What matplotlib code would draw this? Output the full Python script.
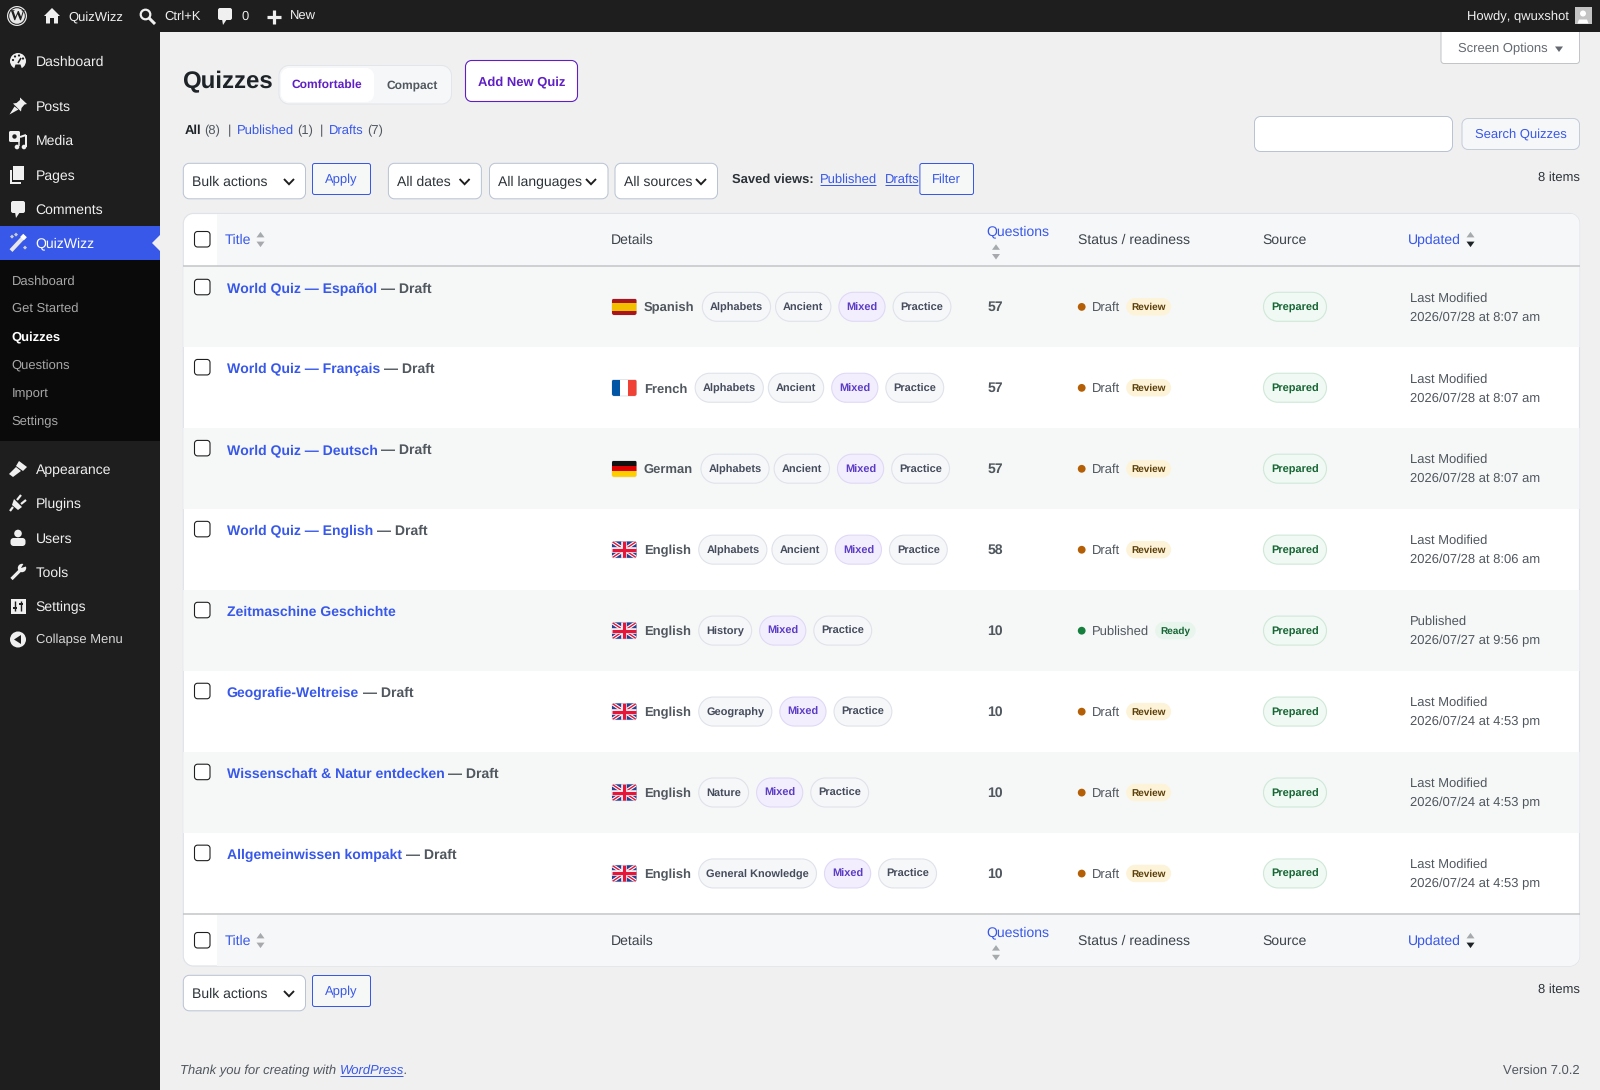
import matplotlib
matplotlib.use("Agg")
import matplotlib.pyplot as plt
from matplotlib.patches import PathPatch, Polygon, Circle, Rectangle
from matplotlib.path import Path

plt.rcParams['font.family'] = ['Liberation Sans', 'DejaVu Sans']
plt.rcParams['text.hinting'] = 'no_hinting'
plt.rcParams['text.hinting_factor'] = 1

# ---------- content ----------
menu_top = ['Dashboard']
menu_mid = ['Posts', 'Media', 'Pages', 'Comments', 'QuizWizz']
submenu = ['Dashboard', 'Get Started', 'Quizzes', 'Questions', 'Import', 'Settings']
menu_low = ['Appearance', 'Plugins', 'Users', 'Tools', 'Settings']
titles = ['World Quiz — Español', 'World Quiz — Français', 'World Quiz — Deutsch', 'World Quiz — English',
          'Zeitmaschine Geschichte', 'Geografie-Weltreise', 'Wissenschaft & Natur entdecken', 'Allgemeinwissen kompakt']
languages = ['Spanish', 'French', 'German', 'English', 'English', 'English', 'English', 'English']
tags = [['Alphabets', 'Ancient', 'Mixed', 'Practice'], ['Alphabets', 'Ancient', 'Mixed', 'Practice'],
        ['Alphabets', 'Ancient', 'Mixed', 'Practice'], ['Alphabets', 'Ancient', 'Mixed', 'Practice'],
        ['History', 'Mixed', 'Practice'], ['Geography', 'Mixed', 'Practice'],
        ['Nature', 'Mixed', 'Practice'], ['General Knowledge', 'Mixed', 'Practice']]
questions = [57, 57, 57, 58, 10, 10, 10, 10]
statuses = ['Draft', 'Draft', 'Draft', 'Draft', 'Published', 'Draft', 'Draft', 'Draft']
readiness = ['Review', 'Review', 'Review', 'Review', 'Ready', 'Review', 'Review', 'Review']
sources = ['Prepared'] * 8
upd_labels = ['Last Modified', 'Last Modified', 'Last Modified', 'Last Modified', 'Published',
              'Last Modified', 'Last Modified', 'Last Modified']
upd_dates = ['2026/07/28 at 8:07 am', '2026/07/28 at 8:07 am', '2026/07/28 at 8:07 am', '2026/07/28 at 8:06 am',
             '2026/07/27 at 9:56 pm', '2026/07/24 at 4:53 pm', '2026/07/24 at 4:53 pm', '2026/07/24 at 4:53 pm']

BLUE = '#3858e9'; GRAY = '#50575e'; DARK = '#2c3338'; PURPLE = '#5f1fc4'; SIDE = '#1e1e1e'

fig = plt.figure(figsize=(16, 10.9), dpi=100, facecolor='#f0f0f1')
ax = fig.add_axes([0, 0, 1, 1])
ax.set_xlim(0, 1600); ax.set_ylim(1090, 0); ax.axis('off')
rend = fig.canvas.get_renderer()


def rounded_path(x0, y0, x1, y1, r):
    r = min(r, (x1 - x0) / 2, (y1 - y0) / 2)
    k = r * 0.4477
    v = [(x0 + r, y0), (x1 - r, y0),
         (x1 - k, y0), (x1, y0 + k), (x1, y0 + r),
         (x1, y1 - r),
         (x1, y1 - k), (x1 - k, y1), (x1 - r, y1),
         (x0 + r, y1),
         (x0 + k, y1), (x0, y1 - k), (x0, y1 - r),
         (x0, y0 + r),
         (x0, y0 + k), (x0 + k, y0), (x0 + r, y0), (x0 + r, y0)]
    c = [Path.MOVETO, Path.LINETO, Path.CURVE4, Path.CURVE4, Path.CURVE4, Path.LINETO,
         Path.CURVE4, Path.CURVE4, Path.CURVE4, Path.LINETO, Path.CURVE4, Path.CURVE4, Path.CURVE4,
         Path.LINETO, Path.CURVE4, Path.CURVE4, Path.CURVE4, Path.CLOSEPOLY]
    return Path(v, c)


def box(x0, y0, x1, y1, fc='white', ec='none', r=0, lw=1, z=2, clip=None):
    if r:
        p = PathPatch(rounded_path(x0, y0, x1, y1, r), fc=fc, ec=ec, lw=lw * 0.72, zorder=z)
    else:
        p = Rectangle((x0, y0), x1 - x0, y1 - y0, fc=fc, ec=ec, lw=lw * 0.72, zorder=z)
    ax.add_patch(p)
    if clip is not None:
        p.set_clip_path(clip)
    return p


def txt(x, yc, s, px=13, color=DARK, weight='normal', ha='left', style='normal', z=5, family=None):
    kw = {'family': family} if family else {}
    return ax.text(x, yc + 0.35 * px, s, fontsize=px * 0.72, color=color, fontweight=weight, ha=ha,
                   va='baseline', fontstyle=style, zorder=z, **kw)


def width(t):
    return t.get_window_extent(rend).width


def poly(pts, cx, cy, color='#f0f0f1', z=6):
    p = Polygon([(cx + a, cy + b) for a, b in pts], closed=True, fc=color, ec='none', zorder=z)
    ax.add_patch(p)
    return p


def seg(pts, cx, cy, color='#f0f0f1', lw=2, z=6):
    ax.plot([cx + a for a, b in pts], [cy + b for a, b in pts], color=color, lw=lw * 0.72, zorder=z,
            solid_capstyle='butt', solid_joinstyle='miter')


def circ(cx, cy, r, color='#f0f0f1', z=6):
    ax.add_patch(Circle((cx, cy), r, fc=color, ec='none', zorder=z))


def chevron(cx, cy):
    seg([(-5, -2.6), (0, 2.6), (5, -2.6)], cx, cy, color='#1e1e1e', lw=1.9)


def sort_arrows(cx, yc, active_down=False):
    poly([(-4, 0), (4, 0), (0, -5.5)], cx, yc - 1.6, color='#a7aaad')
    poly([(-4, 0), (4, 0), (0, 5.5)], cx, yc + 2.6, color='#1d2327' if active_down else '#a7aaad')


def icon(name, cx, cy):
    W = '#f0f0f1'
    if name == 'Dashboard':
        circ(cx, cy, 8, W)
        for a, b in [(-5, -1), (-3, -4.5), (1, -5.5), (5, -2.5)]:
            circ(cx + a, cy + b, 1.1, SIDE, 7)
        seg([(0, 2), (3, -3)], cx, cy, SIDE, 1.6, 7)
        poly([(-4, 8), (4, 8), (2.5, 3.5), (-2.5, 3.5)], cx, cy, SIDE, 7)
    elif name == 'Posts':
        poly([(2, -8.5), (9, -2), (6.5, -1.5), (3.5, 2), (3, 5.5), (-5, -2.5), (-1.5, -3), (2, -6)], cx, cy, W)
        poly([(-3.5, 0.5), (0.5, 3.5), (-8.5, 8.5)], cx, cy, W)
    elif name == 'Media':
        box(cx - 9, cy - 9, cx + 2, cy + 2, W, r=1.5, z=6)
        circ(cx - 3.5, cy - 3.5, 2.2, SIDE, 7)
        seg([(8, -5), (8, 7)], cx, cy, W, 2)
        seg([(2, -3), (8, -5)], cx, cy, W, 2)
        circ(cx + 6, cy + 7, 2.3, W); circ(cx - 1, cy + 7, 2.3, W)
        seg([(1, 1), (1, 6)], cx, cy, W, 1.5)
    elif name == 'Pages':
        box(cx - 5, cy - 9, cx + 6, cy + 5, W, z=6)
        seg([(-7.5, -5), (-7.5, 8), (3, 8)], cx, cy, W, 2)
    elif name == 'Comments':
        box(cx - 7, cy - 8, cx + 7, cy + 4, W, r=2, z=6)
        poly([(-3, 3), (2, 3), (-2, 9)], cx, cy, W)
    elif name == 'QuizWizz':
        seg([(-7, 8), (7, -7)], cx, cy, '#e8e8e8', 4)
        seg([(4, -4), (7, -7)], cx, cy, '#ffffff', 5)
        for a, b in [(-6, -6), (7, 5), (-2, -8)]:
            poly([(-2, 0), (0, -2), (2, 0), (0, 2)], cx + a, cy + b, '#cfcfcf')
    elif name == 'Appearance':
        poly([(1, -8), (9, -2), (5, 2), (-2, -3)], cx, cy, W)
        poly([(-2, -2), (3, 2), (-5, 8), (-9, 5)], cx, cy, W)
    elif name == 'Plugins':
        poly([(-4, -4), (4, 4), (0, 7), (-6, 2)], cx, cy, W)
        seg([(-5, 4), (-8, 8)], cx, cy, W, 2.2)
        seg([(-1, -3), (3, -8)], cx, cy, W, 2.2)
        seg([(3, 1), (8, -3)], cx, cy, W, 2.2)
    elif name == 'Users':
        circ(cx, cy - 4.5, 3.8, W)
        box(cx - 7.5, cy, cx + 7.5, cy + 8, W, r=3, z=6)
    elif name == 'Tools':
        seg([(-6.5, 7), (4, -3.5)], cx, cy, W, 3.2)
        circ(cx + 4, cy - 4, 4.2, W)
        poly([(3, -4), (6, -9), (9.5, -6)], cx, cy, SIDE, 7)
    elif name == 'Settings':
        box(cx - 7.5, cy - 7.5, cx + 7.5, cy + 7.5, W, z=6)
        seg([(-3, -5), (-3, 5)], cx, cy, SIDE, 1.4, 7)
        seg([(3, -5), (3, 5)], cx, cy, SIDE, 1.4, 7)
        seg([(-5, 2), (-1, 2)], cx, cy, SIDE, 2, 7)
        seg([(1, -2), (5, -2)], cx, cy, SIDE, 2, 7)
    elif name == 'Collapse':
        circ(cx, cy, 8, W)
        poly([(3, -4.5), (3, 4.5), (-4, 0)], cx, cy, SIDE, 7)


def flag(lang, yc):
    x0, x1, y0, y1 = 612, 636.5, yc - 8.2, yc + 8.2
    clip = box(x0, y0, x1, y1, '#ffffff', '#e2e4e8', r=2, z=4)
    w, h = x1 - x0, y1 - y0

    def band(a, b, c, vertical=False):
        if vertical:
            r = Rectangle((x0 + a * w, y0), (b - a) * w, h, fc=c, ec='none', zorder=4.2)
        else:
            r = Rectangle((x0, y0 + a * h), w, (b - a) * h, fc=c, ec='none', zorder=4.2)
        ax.add_patch(r); r.set_clip_path(clip)

    if lang == 'Spanish':
        band(0, .25, '#aa151b'); band(.25, .75, '#f1bf00'); band(.75, 1, '#aa151b')
    elif lang == 'French':
        band(0, 1/3, '#0055a4', True); band(2/3, 1, '#ef4135', True)
    elif lang == 'German':
        band(0, 1/3, '#111111'); band(1/3, 2/3, '#dd0000'); band(2/3, 1, '#ffce00')
    else:
        band(0, 1, '#2b3f8f')
        for (a, b, c, d, col, lw, z) in [
            (x0, y0, x1, y1, 'white', 3.6, 4.3), (x0, y1, x1, y0, 'white', 3.6, 4.3),
            (x0, y0, x1, y1, '#e4173a', 1.4, 4.4), (x0, y1, x1, y0, '#e4173a', 1.4, 4.4),
            (x0, yc, x1, yc, 'white', 5.5, 4.5), ((x0 + x1) / 2, y0, (x0 + x1) / 2, y1, 'white', 5.5, 4.5),
            (x0, yc, x1, yc, '#e4173a', 3.2, 4.6), ((x0 + x1) / 2, y0, (x0 + x1) / 2, y1, '#e4173a', 3.2, 4.6)]:
            ln, = ax.plot([a, c], [b, d], color=col, lw=lw * 0.72, zorder=z, solid_capstyle='butt')
            ln.set_clip_path(clip)


def checkbox(y0):
    box(194.5, y0, 210, y0 + 15.5, 'white', '#1e1e1e', r=3, lw=1.1, z=5)


# ---------- page chrome ----------
box(0, 0, 1600, 32, SIDE, z=3)
box(0, 32, 160, 1090, SIDE, z=1)

# admin bar
circ(17, 16, 10, '#e8e8e8', 6); circ(17, 16, 8.8, SIDE, 7); circ(17, 16, 7.8, '#e8e8e8', 8)
txt(17, 16, 'W', 15, SIDE, 'bold', 'center', z=9, family='Liberation Serif')
poly([(0, -8), (8, 0), (6, 0), (6, 7.5), (2, 7.5), (2, 2), (-2, 2), (-2, 7.5), (-6, 7.5), (-6, 0), (-8, 0)], 52, 16)
txt(68, 15.8, 'QuizWizz', 13, '#f0f0f1')
ax.add_patch(Circle((145.5, 14.5), 4.8, fc='none', ec='#f0f0f1', lw=2.2 * 0.72, zorder=6))
seg([(149, 18), (155, 24)], 0, 0, '#f0f0f1', 3)
txt(164, 15.8, 'Ctrl+K', 13, '#f0f0f1')
icon('Comments', 225, 16)
txt(241.5, 15.8, '0', 13, '#f0f0f1')
seg([(-7, 0), (7, 0)], 274, 16.5, '#f0f0f1', 3.2)
seg([(0, -7), (0, 7)], 274, 16.5, '#f0f0f1', 3.2)
txt(290, 15.8, 'New', 13, '#f0f0f1')
txt(1568.5, 15.8, 'Howdy, qwuxshot', 13, '#f0f0f1', ha='right')
box(1575, 7, 1591.5, 23.5, '#c4c4c4', z=6)
circ(1583, 13.5, 3, 'white', 7)
poly([(-5.5, 0), (5.5, 0), (4, -4), (-4, -4)], 1583, 23.5, 'white', 7)

# sidebar
box(0, 226, 160, 260, BLUE, z=2)
box(0, 260, 160, 441, '#0a0a0a', z=2)
poly([(8, -8), (8, 8), (0, 0)], 152, 243, '#f0f0f1')
for name, y in zip(menu_top, [61]):
    icon(name, 18, y); txt(35.7, y, name, 14, '#f0f0f1')
for name, y in zip(menu_mid, [106, 140, 175, 209, 242.6]):
    icon(name, 18, y); txt(35.7, y, name, 14, '#f0f0f1' if name != 'QuizWizz' else 'white')
for name, y in zip(submenu, [280, 307.7, 336, 364, 392.7, 420.7]):
    on = name == 'Quizzes'
    txt(11.7, y, name, 13, 'white' if on else '#a7a7a7', 'bold' if on else 'normal')
for name, y in zip(menu_low, [469, 503, 538, 572, 606]):
    icon(name, 18, y); txt(35.7, y, name, 14, '#f0f0f1')
icon('Collapse', 18, 639.5)
txt(35.7, 638.7, 'Collapse Menu', 13, '#d8d8d8')

# heading row
txt(181.7, 79.5, 'Quizzes', 24, '#1d2327', 'bold')
box(279, 65.5, 451.5, 104, '#f6f7f9', '#e2e5ea', r=10, z=2)
box(281, 68, 374, 102, 'white', r=8, z=3)
txt(327, 84, 'Comfortable', 12, PURPLE, 'bold', 'center')
txt(412.5, 84, 'Compact', 12, GRAY, 'bold', 'center')
box(465.5, 60.5, 577.5, 101.5, 'white', PURPLE, r=6, lw=1.1, z=2)
txt(521.6, 80.5, 'Add New Quiz', 13, PURPLE, 'bold', 'center')
box(1441, 26, 1579.5, 63.5, 'white', '#c3c4c7', r=3, z=1.5)
txt(1458.5, 47.7, 'Screen Options', 13, '#646970')
poly([(-4, 0), (4, 0), (0, 5.5)], 1559, 46.5, '#646970')

# view links
for x, s, c, w in [(184.7, 'All', '#1d2327', 'bold'), (204.2, '(8)', GRAY, 'normal'), (228, '|', GRAY, 'normal'),
                   (236.5, 'Published', BLUE, 'normal'), (297.2, '(1)', GRAY, 'normal'), (320, '|', GRAY, 'normal'),
                   (329, 'Drafts', BLUE, 'normal'), (367.3, '(7)', GRAY, 'normal')]:
    txt(x, 129.5, s, 13, c, w)

# search
box(1254.5, 116.5, 1452.5, 151.5, 'white', '#b9c3d3', r=6, z=2, lw=1)
box(1462, 118.5, 1579.5, 149.5, '#f6f7f9', '#c5cdd9', r=6, z=2, lw=1)
txt(1521, 133, 'Search Quizzes', 13, BLUE, ha='center')


def select(x0, x1, y0, label, chev):
    box(x0, y0, x1, y0 + 35.5, 'white', '#b9c3d3', r=6, z=2, lw=1)
    txt(x0 + 8.8, y0 + 17.7, label, 14, DARK)
    chevron(chev, y0 + 18.3)


def apply_btn(x0, x1, y0, y1, label):
    box(x0, y0, x1, y1, '#f6f7f7', BLUE, r=2, lw=1, z=2)
    txt((x0 + x1) / 2, (y0 + y1) / 2 - 0.4, label, 13, BLUE, ha='center')


select(183.3, 305.5, 163.3, 'Bulk actions', 289)
apply_btn(312.5, 370.5, 163.5, 194.5, 'Apply')
select(388.4, 481.4, 163.3, 'All dates', 464.6)
select(489.5, 608, 163.3, 'All languages', 591)
select(615, 717.5, 163.3, 'All sources', 701)
txt(731.6, 178.5, 'Saved views:', 13, DARK, 'bold')
for x, s in [(820.4, 'Published'), (884.7, 'Drafts')]:
    t = txt(x, 178.5, s, 13, BLUE)
    seg([(x, 184.8), (x + width(t) - 1.5, 184.8)], 0, 0, BLUE, 1)
apply_btn(919.9, 973.5, 163.5, 194.5, 'Filter')
txt(1579.6, 176.5, '8 items', 13, DARK, ha='right')

# ---------- table ----------
tbl = box(183.3, 213.5, 1579.5, 966, 'white', '#dfe3e8', r=10, z=1.5, lw=1.2)
ROW0, ROWH = 267, 80.95
for y0, y1 in [(213.5, 266), (915, 966)]:
    box(217, y0, 1579.5, y1, '#f6f7f9', z=1.8, clip=tbl)
for i in range(8):
    if i % 2 == 0:
        box(183.3, ROW0 + i * ROWH - 0.7, 1579.5, ROW0 + (i + 1) * ROWH - 0.7, '#f6f8f7', z=1.8, clip=tbl)
for y in (266.3, 914.3):
    seg([(183.3, y), (1579.5, y)], 0, 0, '#c3c4c7', 1.5, 3)


def header(yc, top_line):
    checkbox(yc - 7.5)
    txt(224.7, yc, 'Title', 14, BLUE); sort_arrows(260.5, yc)
    txt(611, yc, 'Details', 14, '#3c434a')
    txt(985.9, top_line, 'Questions', 14, BLUE); sort_arrows(996, top_line + 21)
    txt(1077.6, yc, 'Status / readiness', 14, '#3c434a')
    txt(1262.5, yc, 'Source', 14, '#3c434a')
    txt(1407.8, yc, 'Updated', 14, BLUE); sort_arrows(1470.5, yc, True)


header(239, 230.4)
header(940, 931.2)

for i in range(8):
    top = ROW0 + i * ROWH
    yc = top + 39.8
    ttop = top - (0.8 if i else 0)
    checkbox(ttop + 12.3)
    t = txt(226.6, ttop + 21, titles[i], 14, BLUE, 'bold')
    if statuses[i] == 'Draft':
        txt(226.6 + width(t) + 4, ttop + 21, '— Draft', 14, GRAY, 'bold')
    flag(languages[i], yc)
    t = txt(643.7, yc + 0.1, languages[i], 13, GRAY, 'bold')
    x = 644 + width(t) + 7.8
    for tag in tags[i]:
        mixed = tag == 'Mixed'
        if mixed:
            x += 3
        t = txt(x + 7.6, yc - 0.1, tag, 11, '#5b3cc4' if mixed else '#454c5c', 'bold')
        w = width(t) + 15
        box(x, yc - 14.5, x + w, yc + 14.5, '#f3eefe' if mixed else '#f6f7f9',
            '#e0d8f6' if mixed else '#dfe2ea', r=14.5, z=3, lw=1.1)
        x += w + 5 + (3 if mixed else 0)
    txt(987.6, yc - 0.6, str(questions[i]), 14, GRAY, 'bold')
    draft = statuses[i] == 'Draft'
    circ(1081.7, yc + 0.1, 3.9, '#b45f06' if draft else '#15803d')
    t = txt(1092, yc - 0.4, statuses[i], 13, GRAY)
    x = 1092 + width(t) + 6
    t = txt(x + 5.5, yc - 0.3, readiness[i], 10, '#5b3f0a' if draft else '#166534', 'bold')
    box(x, yc - 8.7, x + width(t) + 10.5, yc + 8.7, '#fdf3d8' if draft else '#e8f5ec', r=8.7, z=3)
    box(1263.5, yc - 14.5, 1326.5, yc + 14.5, '#f0f9f3', '#cfe8d8', r=14.5, z=3, lw=1.1)
    txt(1295, yc - 0.1, sources[i], 11, '#166534', 'bold', 'center')
    txt(1410, ttop + 30.7, upd_labels[i], 13, GRAY)
    txt(1410, ttop + 49.7, upd_dates[i], 13, GRAY)

# bottom toolbar and footer
select(183.3, 305.5, 975.3, 'Bulk actions', 289)
apply_btn(312.5, 370.5, 975.5, 1006.5, 'Apply')
txt(1579.6, 988, '8 items', 13, DARK, ha='right')
t = txt(180.5, 1069.5, 'Thank you for creating with', 13, GRAY, style='italic')
x = 180.5 + width(t) + 3.6
t = txt(x, 1069.5, 'WordPress', 13, BLUE, style='italic')
seg([(x, 1076), (x + width(t) - 1.5, 1076)], 0, 0, BLUE, 1)
txt(x + width(t) - 1, 1069.5, '.', 13, GRAY, style='italic')
txt(1579.6, 1069.5, 'Version 7.0.2', 13, GRAY, ha='right')

fig.savefig('out.png', dpi=100, facecolor=fig.get_facecolor())
